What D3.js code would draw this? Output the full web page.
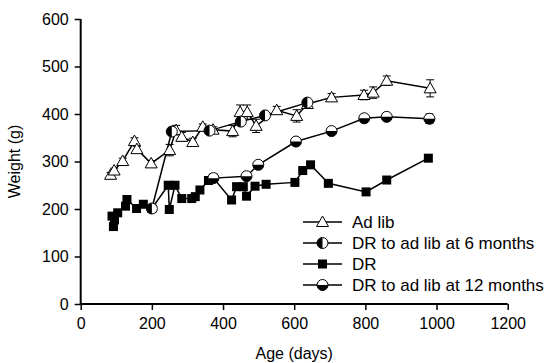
<!DOCTYPE html>
<html>
<head>
<meta charset="utf-8">
<script src="https://cdn.jsdelivr.net/npm/d3@7"></script>
<style>
  body { margin: 0; background: #fff; }
  text { font-family: "Liberation Sans", Arial, sans-serif; fill: #000; }
</style>
</head>
<body>
<svg id="chart" width="547" height="363"></svg>
<script>
// data: [age in days, weight in g, sem]
const adLib = [
  [84, 272, 5], [94, 281, 5], [118, 301, 6], [151, 343, 7], [158, 326, 6], [198, 296, 6],
  [250, 324, 12], [268, 366, 10], [284, 352, 9], [315, 341, 8], [343, 373, 6], [372, 367, 6],
  [427, 364, 12], [448, 404, 15], [468, 404, 15], [493, 375, 14], [551, 408, 8], [607, 396, 13],
  [637, 421, 6], [705, 435, 8], [796, 440, 10], [822, 445, 12], [860, 470, 10], [982, 454, 18]
];
const dr6 = [
  [200, 201, 3], [256, 363, 4], [362, 365, 4], [450, 384, 4], [518, 397, 4], [637, 424, 4]
];
const dr = [
  [88, 185], [92, 163], [95, 177], [104, 192], [126, 206], [130, 220], [157, 201], [176, 210],
  [200, 201], [246, 250], [249, 199], [265, 250], [284, 222], [312, 222], [322, 226], [335, 240],
  [359, 260], [373, 265], [424, 219], [438, 247], [457, 247], [466, 227], [490, 248], [521, 252],
  [602, 256], [624, 281], [646, 293], [696, 254], [802, 236], [860, 261], [977, 307]
];
const dr12 = [
  [373, 265, 3], [466, 269, 3], [499, 293, 3], [605, 342, 3], [705, 364, 4],
  [797, 391, 5], [860, 394, 6], [980, 390, 10]
];
const xTicks = [0, 200, 400, 600, 800, 1000, 1200];
const yTicks = [0, 100, 200, 300, 400, 500, 600];
const legendLabels = ["Ad lib", "DR to ad lib at 6 months", "DR", "DR to ad lib at 12 months"];

const svg = d3.select("#chart");

const x = d3.scaleLinear().domain([0, 1200]).range([80.7, 507.7]);
const y = d3.scaleLinear().domain([0, 600]).range([304, 19]);

// axes
const xAxis = svg.append("g")
    .attr("transform", "translate(0," + y(0) + ")")
    .call(d3.axisBottom(x).tickValues(xTicks).tickSize(6).tickPadding(8).tickFormat(d3.format("d")));
const yAxis = svg.append("g")
    .attr("transform", "translate(" + x(0) + ",0)")
    .call(d3.axisLeft(y).tickValues(yTicks).tickSize(6).tickPadding(6));

[xAxis, yAxis].forEach(function (g) {
    g.select(".domain").attr("stroke", "#000").attr("stroke-width", 2);
    g.selectAll(".tick line").attr("stroke", "#000").attr("stroke-width", 1.5);
    g.selectAll(".tick text").style("font-size", "16px").attr("fill", "#000");
});
xAxis.select(".domain").attr("d", "M" + x(0) + ",0H" + x(1200));
yAxis.select(".domain").attr("d", "M0," + y(0) + "V" + y(600));

svg.append("text")
    .attr("x", (x(0) + x(1200)) / 2)
    .attr("y", 359)
    .attr("text-anchor", "middle")
    .style("font-size", "16px")
    .text("Age (days)");

svg.append("text")
    .attr("transform", "translate(20," + y(300) + ")rotate(-90)")
    .attr("text-anchor", "middle")
    .style("font-size", "16px")
    .text("Weight (g)");

const line = d3.line()
    .x(d => x(d[0]))
    .y(d => y(d[1]));

// markers
function triangle(g) {
    g.append("path")
        .attr("d", "M0,-6L6,4.5L-6,4.5Z")
        .attr("fill", "#fff")
        .attr("stroke", "#000")
        .attr("stroke-width", 1);
}
function square(g) {
    g.append("rect")
        .attr("x", -4.5).attr("y", -4.5)
        .attr("width", 9).attr("height", 9)
        .attr("fill", "#000");
}
function halfLeft(g) {
    g.append("circle").attr("r", 5.5).attr("fill", "#fff").attr("stroke", "#000").attr("stroke-width", 1);
    g.append("path").attr("d", "M0,-5.5A5.5,5.5 0 0 0 0,5.5Z").attr("fill", "#000");
}
function halfBottom(g) {
    g.append("circle").attr("r", 5.5).attr("fill", "#fff").attr("stroke", "#000").attr("stroke-width", 1);
    g.append("path").attr("d", "M-5.5,0A5.5,5.5 0 0 0 5.5,0Z").attr("fill", "#000");
}

const series = [
    { data: adLib, marker: triangle },
    { data: dr, marker: square },
    { data: dr6, marker: halfLeft },
    { data: dr12, marker: halfBottom }
];

// connecting lines first
series.forEach(function (s) {
    svg.append("path")
        .attr("d", line(s.data))
        .attr("fill", "none")
        .attr("stroke", "#000")
        .attr("stroke-width", 1.5);
});

// error bars + markers
series.forEach(function (s) {
    const withErr = s.data.filter(d => d.length > 2);
    const eb = svg.append("g").attr("stroke", "#000").attr("stroke-width", 1);
    withErr.forEach(function (d) {
        const cx = x(d[0]);
        eb.append("line").attr("x1", cx).attr("x2", cx).attr("y1", y(d[1] - d[2])).attr("y2", y(d[1] + d[2]));
        eb.append("line").attr("x1", cx - 4).attr("x2", cx + 4).attr("y1", y(d[1] + d[2])).attr("y2", y(d[1] + d[2]));
        eb.append("line").attr("x1", cx - 4).attr("x2", cx + 4).attr("y1", y(d[1] - d[2])).attr("y2", y(d[1] - d[2]));
    });
    svg.selectAll(null)
        .data(s.data)
        .enter()
        .append("g")
        .attr("transform", d => "translate(" + x(d[0]) + "," + y(d[1]) + ")")
        .each(function () { s.marker(d3.select(this)); });
});

// legend
const legendMarkers = [triangle, halfLeft, square, halfBottom];
const legend = svg.append("g");
legendLabels.forEach(function (label, i) {
    const ly = 222 + i * 21;
    legend.append("line")
        .attr("x1", 303).attr("x2", 342)
        .attr("y1", ly).attr("y2", ly)
        .attr("stroke", "#000").attr("stroke-width", 1.5);
    const m = legend.append("g").attr("transform", "translate(322.5," + ly + ")");
    legendMarkers[i](m);
    legend.append("text")
        .attr("x", 352)
        .attr("y", ly + 6)
        .style("font-size", "17px")
        .text(label);
});
</script>
</body>
</html>
